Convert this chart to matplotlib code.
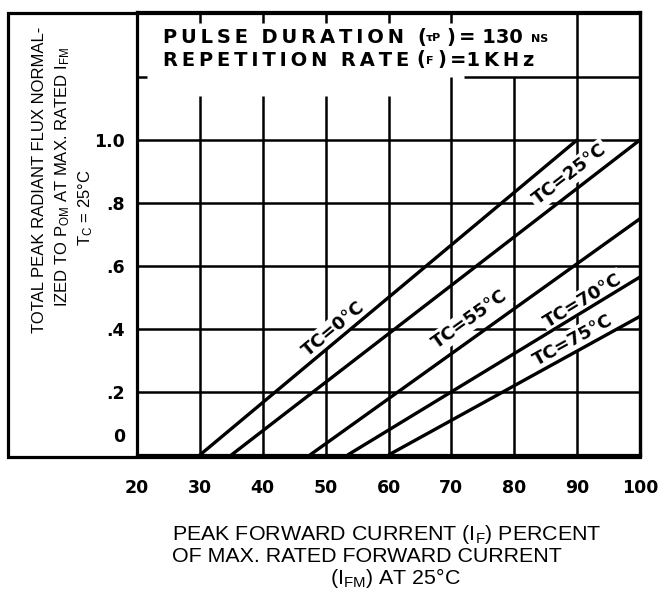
import numpy as np
import matplotlib
matplotlib.use("Agg")
import matplotlib.pyplot as plt
from matplotlib.patches import Rectangle

plt.rcParams['mathtext.fontset'] = 'custom'
plt.rcParams['mathtext.rm'] = 'Liberation Sans'
plt.rcParams['mathtext.it'] = 'Liberation Sans:italic'
plt.rcParams['mathtext.bf'] = 'Liberation Sans:bold'

# curve data: straight lines starting on the x axis
tc_names = ["0", "25", "55", "70", "75"]
x_start = [30, 35, 47.5, 53.5, 60]
x_end = [90, 100, 100, 100, 100]
y_end = [1.0, 1.0, 0.75, 0.565, 0.44]

# label anchor for each curve
lab_x = [51.3, 88.8, 72.9, 90.9, 89.3]
lab_y = [0.40, 0.89, 0.43, 0.49, 0.365]

xticks = [20, 30, 40, 50, 60, 70, 80, 90, 100]
yticks = [0.2, 0.4, 0.6, 0.8, 1.0]
ytick_labels = [".2", ".4", ".6", ".8", "1.0"]

W, H = 662, 595
fig = plt.figure(figsize=(W / 100, H / 100), dpi=100)


def fx(p):
    return p / W


def fy(p):
    return 1 - p / H


ax = fig.add_axes([fx(137), fy(455), (640 - 137) / W, (455 - 12) / H])
ax.set_xlim(20, 100)
ax.set_ylim(0, 1.406)
for s in ax.spines.values():
    s.set_linewidth(2.3)

lw_grid = 1.8
# vertical grid lines (partly cut by the header box)
ax.vlines([30, 40, 50, 60], 0, 1.14, color='black', lw=lw_grid, zorder=1)
ax.vlines([30, 40, 50, 60, 70], 1.37, 1.406, color='black', lw=lw_grid, zorder=1)
ax.vlines([70, 80], 0, 1.2, color='black', lw=lw_grid, zorder=1)
ax.vlines([90], 0, 1.406, color='black', lw=lw_grid, zorder=1)
# horizontal grid lines
ax.hlines(yticks, 20, 100, color='black', lw=lw_grid, zorder=1)
ax.hlines([1.2], 72, 100, color='black', lw=lw_grid, zorder=1)
ax.hlines([1.2], 20, 21.6, color='black', lw=lw_grid, zorder=1)

for i in range(len(tc_names)):
    ax.plot([x_start[i], x_end[i]], [0, y_end[i]], color='black', lw=2.4,
            solid_capstyle='butt', zorder=4)
    slope = y_end[i] / (x_end[i] - x_start[i])
    ang = np.degrees(np.arctan(slope))
    ax.text(lab_x[i], lab_y[i], "TC=" + tc_names[i] + "°C", rotation=ang,
            transform_rotates_text=True, rotation_mode='anchor',
            ha='center', va='center', fontsize=13, fontweight='bold',
            family='DejaVu Sans', zorder=3,
            bbox=dict(facecolor='white', edgecolor='none', pad=1.5))

ax.set_xticks(xticks)
ax.set_xticklabels([str(v) for v in xticks], fontsize=12.5, fontweight='bold')
ax.set_yticks(yticks)
ax.set_yticklabels(ytick_labels, fontsize=12.5, fontweight='bold')
ax.tick_params(axis='x', length=0, pad=17)
ax.tick_params(axis='y', length=0, pad=9)
ax.annotate("0", xy=(0, 0), xycoords=('axes fraction', 'data'),
            xytext=(-12, 18), textcoords='offset pixels', ha='right',
            va='center', fontsize=12.5, fontweight='bold')

# outer frame around the y label area
fig.patches.append(Rectangle((fx(8), fy(457)), (640 - 8) / W, (457 - 13) / H,
                             transform=fig.transFigure, fill=False,
                             lw=2.3, edgecolor='black'))


def spaced(s):
    return "\u2009".join(s)


hd = dict(fontsize=14, fontweight='bold', family='DejaVu Sans', va='center')
fig.text(fx(163), fy(37.5), spaced("PULSE") + "  " + spaced("DURATION"), **hd)
fig.text(fx(417), fy(37.5), "(", **hd)
fig.text(fx(426), fy(38), "τP", fontsize=8, fontweight='bold', va='center')
fig.text(fx(446), fy(37.5), ")", **hd)
fig.text(fx(459), fy(37.5), "= 130", **hd)
fig.text(fx(531), fy(39), "NS", fontsize=8, fontweight='bold', va='center')
fig.text(fx(163), fy(60), spaced("REPETITION") + "  " + spaced("RATE"), **hd)
fig.text(fx(416), fy(60), "(", **hd)
fig.text(fx(426), fy(61), "F", fontsize=8, fontweight='bold', va='center')
fig.text(fx(437), fy(60), ")", **hd)
fig.text(fx(450), fy(60), "=" + spaced("1KHz"), **hd)

ylab = dict(fontsize=12, family='Liberation Sans',
            ha='center', va='center', rotation=90)
fig.text(fx(40), fy(180), "TOTAL PEAK RADIANT FLUX NORMAL-", **ylab)
fig.text(fx(63), fy(177), r"IZED TO P$_\mathrm{OM}$ AT MAX. RATED I$_\mathrm{FM}$",
         **ylab)
fig.text(fx(86), fy(208), r"T$_\mathrm{C}$ = 25°C", **ylab)

xlab = dict(fontsize=15.4, family='Liberation Sans', ha='left', va='center')
fig.text(fx(172), fy(534), r"PEAK FORWARD CURRENT (I$_\mathrm{F}$) PERCENT", **xlab)
fig.text(fx(172), fy(556), "OF MAX. RATED FORWARD CURRENT", **xlab)
xlab['ha'] = 'center'
fig.text(fx(395), fy(578), r"(I$_\mathrm{FM}$) AT 25°C", **xlab)

fig.savefig("out.png", dpi=100)
